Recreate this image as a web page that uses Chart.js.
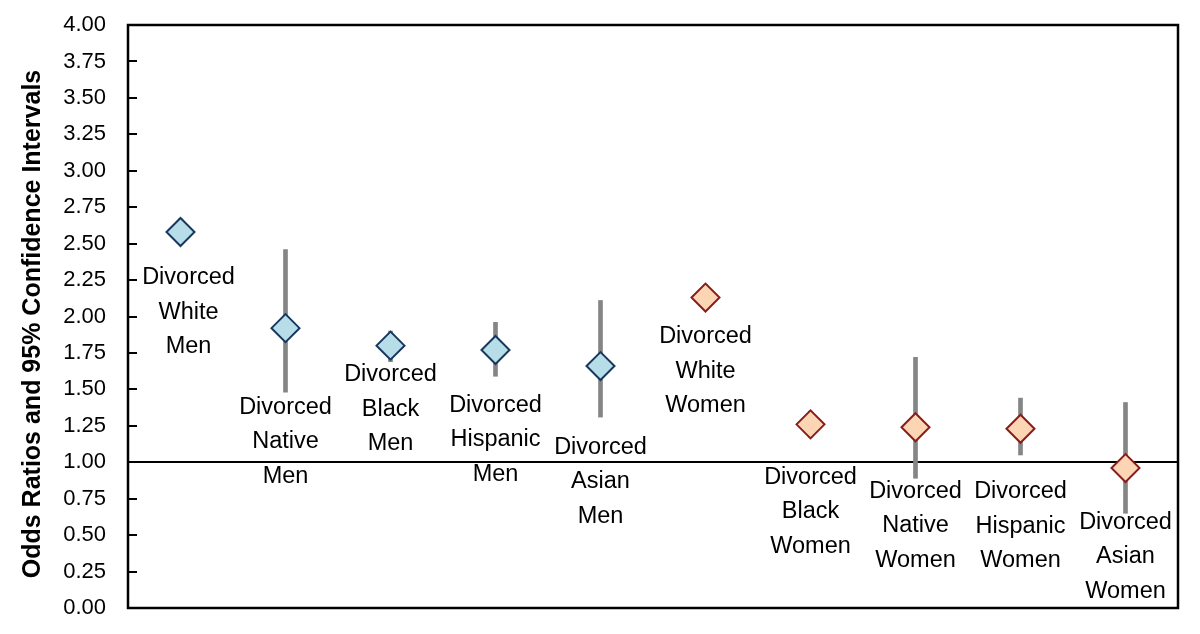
<!DOCTYPE html>
<html>
<head>
<meta charset="utf-8">
<script src="https://cdn.jsdelivr.net/npm/chart.js@4/dist/chart.umd.min.js"></script>
<style>
html,body{margin:0;padding:0;background:#ffffff;}
#wrap{width:1200px;height:634px;position:relative;}
</style>
</head>
<body>
<div id="wrap"><canvas id="c" width="1200" height="634"></canvas></div>
<script>
// ---- data ----
const categories = [
  'Divorced White Men', 'Divorced Native Men', 'Divorced Black Men', 'Divorced Hispanic Men', 'Divorced Asian Men',
  'Divorced White Women', 'Divorced Black Women', 'Divorced Native Women', 'Divorced Hispanic Women', 'Divorced Asian Women'
];
const labelLines = [
  ['Divorced', 'White', 'Men'],
  ['Divorced', 'Native', 'Men'],
  ['Divorced', 'Black', 'Men'],
  ['Divorced', 'Hispanic', 'Men'],
  ['Divorced', 'Asian', 'Men'],
  ['Divorced', 'White', 'Women'],
  ['Divorced', 'Black', 'Women'],
  ['Divorced', 'Native', 'Women'],
  ['Divorced', 'Hispanic', 'Women'],
  ['Divorced', 'Asian', 'Women']
];
const groups = ['Men', 'Men', 'Men', 'Men', 'Men', 'Women', 'Women', 'Women', 'Women', 'Women'];
const oddsRatios = [2.58, 1.92, 1.80, 1.77, 1.66, 2.13, 1.26, 1.24, 1.23, 0.96];
const ciLow      = [2.50, 1.48, 1.69, 1.59, 1.31, 2.05, 1.17, 0.89, 1.05, 0.65];
const ciHigh     = [2.67, 2.46, 1.90, 1.96, 2.11, 2.22, 1.35, 1.72, 1.44, 1.41];
const yTickValues = [0, 0.25, 0.5, 0.75, 1, 1.25, 1.5, 1.75, 2, 2.25, 2.5, 2.75, 3, 3.25, 3.5, 3.75, 4];
const referenceValue = 1.00;
const yAxisTitle = 'Odds Ratios and 95% Confidence Intervals';

// ---- styles ----
const groupFill = { Men: '#b7dee8', Women: '#fcd5b4' };
const groupBorder = { Men: '#17375e', Women: '#8b1c1c' };
const labelOffsets = [46, 79, 29, 55, 81, 39, 53, 64, 63, 54]; // px below marker to first line
const labelShiftX = [8, 0, 0, 0, 0, 0, 0, 0, 0, 0];
const LINE_H = 34.5;
const FONT = '"Liberation Sans", Arial, Helvetica, sans-serif';

const framePlugin = {
  id: 'frame',
  beforeDatasetsDraw(chart) {
    const { ctx, chartArea: a, scales: { y } } = chart;
    const py = Math.round(y.getPixelForValue(referenceValue));
    ctx.save();
    ctx.strokeStyle = '#000';
    ctx.lineWidth = 2;
    ctx.beginPath();
    ctx.moveTo(a.left, py);
    ctx.lineTo(a.right, py);
    ctx.stroke();
    ctx.restore();
  },
  afterDraw(chart) {
    const { ctx, chartArea: a, scales: { x, y } } = chart;
    ctx.save();
    ctx.strokeStyle = '#000';
    ctx.lineWidth = 2.5;
    ctx.strokeRect(a.left, a.top, a.right - a.left, a.bottom - a.top);
    // inward tick marks
    ctx.lineWidth = 2;
    ctx.beginPath();
    y.ticks.forEach(t => {
      const py = Math.round(y.getPixelForValue(t.value));
      ctx.moveTo(a.left, py);
      ctx.lineTo(a.left + 9, py);
    });
    ctx.stroke();
    // labels
    ctx.fillStyle = '#000';
    ctx.font = '23.5px ' + FONT;
    ctx.textAlign = 'center';
    ctx.textBaseline = 'middle';
    labelLines.forEach((lines, i) => {
      const px = x.getPixelForValue(i) + labelShiftX[i];
      const py = y.getPixelForValue(oddsRatios[i]) + labelOffsets[i];
      lines.forEach((ln, k) => ctx.fillText(ln, px, py + k * LINE_H));
    });
    // axis title
    ctx.save();
    ctx.translate(33, 324);
    ctx.rotate(-Math.PI / 2);
    ctx.font = 'bold 25px ' + FONT;
    ctx.fillText(yAxisTitle, 0, 0);
    ctx.restore();
    ctx.restore();
  }
};

new Chart(document.getElementById('c'), {
  type: 'bar',
  data: {
    labels: categories,
    datasets: [
      {
        type: 'line',
        label: 'Odds ratio',
        data: oddsRatios,
        showLine: false,
        pointStyle: 'rectRot',
        pointRadius: 14,
        pointHoverRadius: 14,
        pointBorderWidth: 2,
        pointBackgroundColor: groups.map(g => groupFill[g]),
        pointBorderColor: groups.map(g => groupBorder[g]),
        clip: false,
        order: 0
      },
      {
        type: 'bar',
        label: '95% CI',
        data: ciLow.map((lo, i) => [lo, ciHigh[i]]),
        backgroundColor: '#858585',
        barThickness: 4,
        order: 1
      }
    ]
  },
  options: {
    responsive: false,
    animation: false,
    devicePixelRatio: 1,
    layout: { padding: { left: 0, top: 25, right: 22, bottom: 26 } },
    plugins: { legend: { display: false }, tooltip: { enabled: false } },
    scales: {
      x: { display: false, offset: true },
      y: {
        min: 0,
        max: 4,
        afterFit(scale) { scale.width = 128; scale.paddingTop = 0; scale.paddingBottom = 0; },
        afterBuildTicks(scale) { scale.ticks = yTickValues.map(v => ({ value: v })); },
        grid: { display: false, drawTicks: false },
        border: { display: false },
        ticks: {
          autoSkip: false,
          padding: 22,
          color: '#000',
          font: { family: FONT, size: 22 },
          callback: v => Number(v).toFixed(2)
        }
      }
    }
  },
  plugins: [framePlugin]
});
</script>
</body>
</html>
